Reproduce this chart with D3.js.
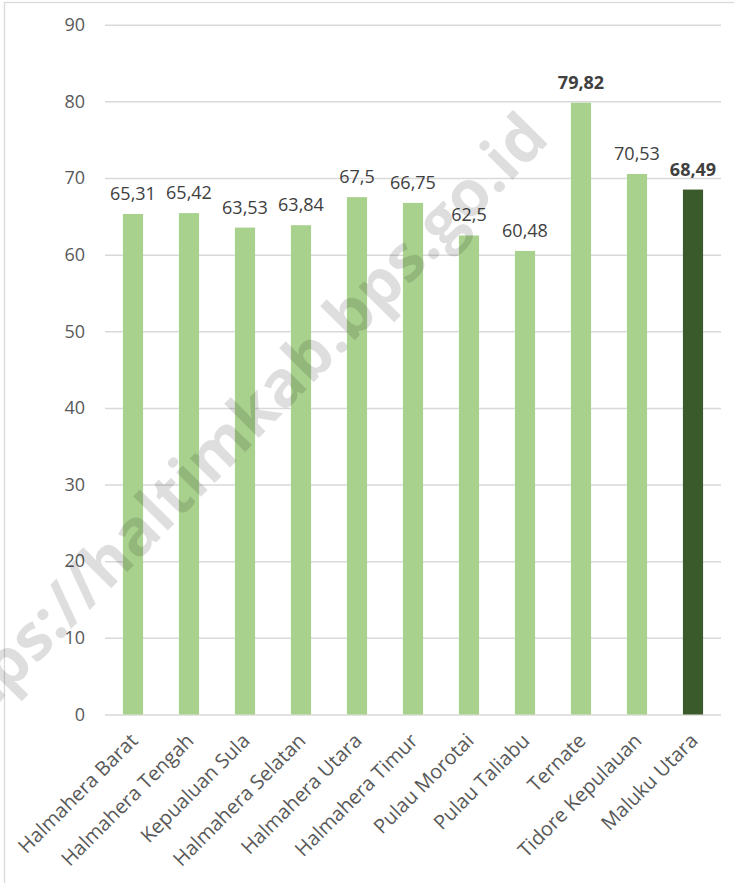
<!DOCTYPE html>
<html>
<head>
<meta charset="utf-8">
<script src="https://cdn.jsdelivr.net/npm/d3@7"></script>
<style>
  body { margin: 0; background: #fff; }
  svg { display: block; font-family: "Open Sans", sans-serif; }
</style>
</head>
<body>
<div id="chart"></div>
<script>
var categories = ["Halmahera Barat", "Halmahera Tengah", "Kepualuan Sula", "Halmahera Selatan",
  "Halmahera Utara", "Halmahera Timur", "Pulau Morotai", "Pulau Taliabu", "Ternate",
  "Tidore Kepulauan", "Maluku Utara"]
var values = [65.31, 65.42, 63.53, 63.84, 67.5, 66.75, 62.5, 60.48, 79.82, 70.53, 68.49]
var highlighted = ["Ternate", "Maluku Utara"]
var yTicks = [0, 10, 20, 30, 40, 50, 60, 70, 80, 90]
var watermark = "https://haltimkab.bps.go.id"

var width = 734, height = 883

var svg = d3.select("#chart").append("svg")
  .attr("width", width)
  .attr("height", height)

// chart frame
svg.append("rect")
  .attr("x", 4.5).attr("y", 2.5)
  .attr("width", 760).attr("height", 900)
  .attr("fill", "none")
  .attr("stroke", "#d9d9d9")
  .attr("stroke-width", 1.3)

var x = d3.scaleBand()
  .domain(categories)
  .range([105, 721])
  .paddingInner(0.64)
  .paddingOuter(0.32)

var y = d3.scaleLinear()
  .domain([0, 90])
  .range([714.5, 24.7])

var yAxis = svg.append("g")
  .attr("transform", "translate(105,0)")
  .call(d3.axisLeft(y).tickValues(yTicks).tickSize(-616).tickPadding(20))

yAxis.select(".domain").remove()
yAxis.selectAll(".tick line")
  .attr("stroke", "#d9d9d9")
  .attr("stroke-width", 1.5)
yAxis.selectAll(".tick text")
  .attr("fill", "#595959")
  .style("font-size", "18px")
  .style("font-family", "Open Sans, sans-serif")

svg.selectAll(".bar")
  .data(values)
  .enter().append("rect")
  .attr("class", "bar")
  .attr("x", function(d, i) { return x(categories[i]) })
  .attr("y", function(d) { return y(d) })
  .attr("width", x.bandwidth())
  .attr("height", function(d) { return y(0) - y(d) })
  .attr("fill", function(d, i) { return categories[i] == "Maluku Utara" ? "#3b5a2b" : "#a9d18e" })

svg.selectAll(".value")
  .data(values)
  .enter().append("text")
  .attr("class", "value")
  .attr("x", function(d, i) { return x(categories[i]) + x.bandwidth() / 2 })
  .attr("y", function(d) { return y(d) - 14 })
  .attr("text-anchor", "middle")
  .attr("fill", "#404040")
  .style("font-size", "18px")
  .style("font-weight", function(d, i) { return highlighted.indexOf(categories[i]) >= 0 ? 700 : 400 })
  .text(function(d) { return String(d).replace(".", ",") })

svg.selectAll(".cat")
  .data(categories)
  .enter().append("text")
  .attr("class", "cat")
  .attr("transform", function(d) {
    return "translate(" + (x(d) + x.bandwidth() / 2 + 6) + ",742) rotate(-45)"
  })
  .attr("text-anchor", "end")
  .attr("fill", "#595959")
  .style("font-size", "20px")
  .text(function(d) { return d })

svg.append("text")
  .attr("transform", "translate(245,452) rotate(-45.5)")
  .attr("text-anchor", "middle")
  .attr("fill", "rgba(0,0,0,0.13)")
  .style("font-size", "64px")
  .style("font-weight", 700)
  .text(watermark)
</script>
</body>
</html>
